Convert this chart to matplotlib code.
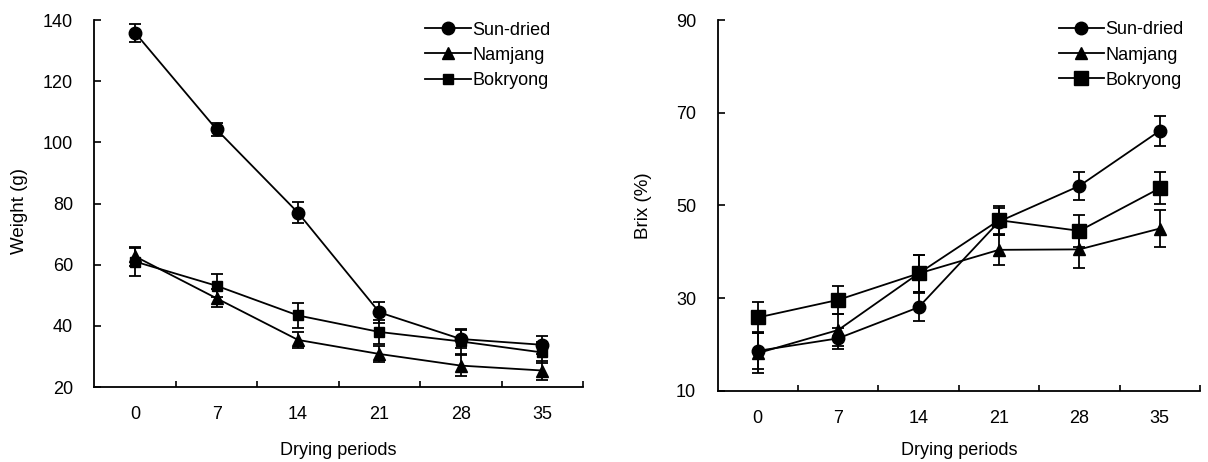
import numpy as np
import matplotlib
matplotlib.use("Agg")
import matplotlib.pyplot as plt
from matplotlib.lines import Line2D

plt.rcParams['font.family'] = ['Liberation Sans', 'DejaVu Sans']

days = ['0', '7', '14', '21', '28', '35']
series = ['Sun-dried', 'Namjang', 'Bokryong']
markers = ['o', '^', 's']

# weight (g)
weight_sun = [135.8, 104.2, 77.0, 44.4, 35.7, 33.8]
weight_sun_err = [3.0, 2.2, 3.5, 3.5, 3.0, 3.0]
weight_nam = [62.7, 49.0, 35.4, 30.8, 27.0, 25.4]
weight_nam_err = [3.0, 3.0, 2.5, 2.7, 3.5, 3.0]
weight_bok = [61.0, 53.1, 43.4, 38.0, 34.9, 31.3]
weight_bok_err = [4.6, 3.8, 4.1, 4.0, 4.0, 3.5]

# brix (%)
brix_sun = [18.6, 21.3, 28.0, 46.5, 54.2, 66.1]
brix_sun_err = [4.0, 2.2, 3.0, 3.0, 3.0, 3.2]
brix_nam = [18.1, 23.1, 35.3, 40.4, 40.5, 45.0]
brix_nam_err = [4.3, 3.5, 4.0, 3.3, 4.0, 4.0]
brix_bok = [25.8, 29.6, 35.3, 46.8, 44.5, 53.7]
brix_bok_err = [3.3, 3.0, 4.0, 3.0, 3.5, 3.5]

fig = plt.figure(figsize=(12.08, 4.62), dpi=100)
ax1 = fig.add_axes([0.0782, 0.1623, 0.4044, 0.7944])
ax2 = fig.add_axes([0.594, 0.1543, 0.3994, 0.8024])

x = np.arange(len(days))
FS = 13


def draw(ax, data, sizes):
    handles = []
    for (vals, errs), name, m, ms in zip(data, series, markers, sizes):
        ax.errorbar(x, vals, yerr=errs, color='black', marker=m, markersize=ms,
                    linewidth=1.3, elinewidth=1.3, capsize=4, capthick=1.3)
        handles.append(Line2D([], [], color='black', marker=m, markersize=ms,
                              linewidth=1.3, label=name))
    ax.set_xlim(-0.5, 5.5)
    ax.spines['top'].set_visible(False)
    ax.spines['right'].set_visible(False)
    ax.spines['left'].set_linewidth(1.3)
    ax.spines['bottom'].set_linewidth(1.3)
    ax.set_xticks(x)
    ax.set_xticklabels(days)
    ax.set_xticks(np.arange(0.5, 6.0, 1.0), minor=True)
    ax.tick_params(axis='x', which='major', length=0, pad=14, labelsize=FS)
    ax.tick_params(axis='x', which='minor', direction='in', length=4, width=1.2)
    ax.tick_params(axis='y', direction='in', length=5, width=1.2, pad=15.5, labelsize=FS)
    ax.set_xlabel('Drying periods', fontsize=FS)
    return handles


h1 = draw(ax1, [(weight_sun, weight_sun_err), (weight_nam, weight_nam_err),
                (weight_bok, weight_bok_err)], [9, 8.5, 7])
ax1.set_ylim(20, 140)
ax1.set_yticks(np.arange(20, 141, 20))
ax1.set_ylabel('Weight (g)', fontsize=13.5)
ax1.yaxis.set_label_coords(-0.136, 0.48)
ax1.xaxis.set_label_coords(0.5, -0.15)
ax1.legend(handles=h1, loc='upper right', bbox_to_anchor=(0.967, 1.04), frameon=False,
           fontsize=FS, handlelength=2.5, handletextpad=0.1, labelspacing=0.45)

h2 = draw(ax2, [(brix_sun, brix_sun_err), (brix_nam, brix_nam_err),
                (brix_bok, brix_bok_err)], [9, 8.5, 9.5])
ax2.set_ylim(10, 90)
ax2.set_yticks(np.arange(10, 91, 20))
ax2.set_ylabel('Brix (%)', fontsize=13.5)
ax2.yaxis.set_label_coords(-0.136, 0.5)
ax2.xaxis.set_label_coords(0.5, -0.138)
ax2.legend(handles=h2, loc='upper right', bbox_to_anchor=(1.0, 1.04), frameon=False,
           fontsize=FS, handlelength=2.5, handletextpad=0.1, labelspacing=0.45)

fig.savefig('out.png', dpi=100)
